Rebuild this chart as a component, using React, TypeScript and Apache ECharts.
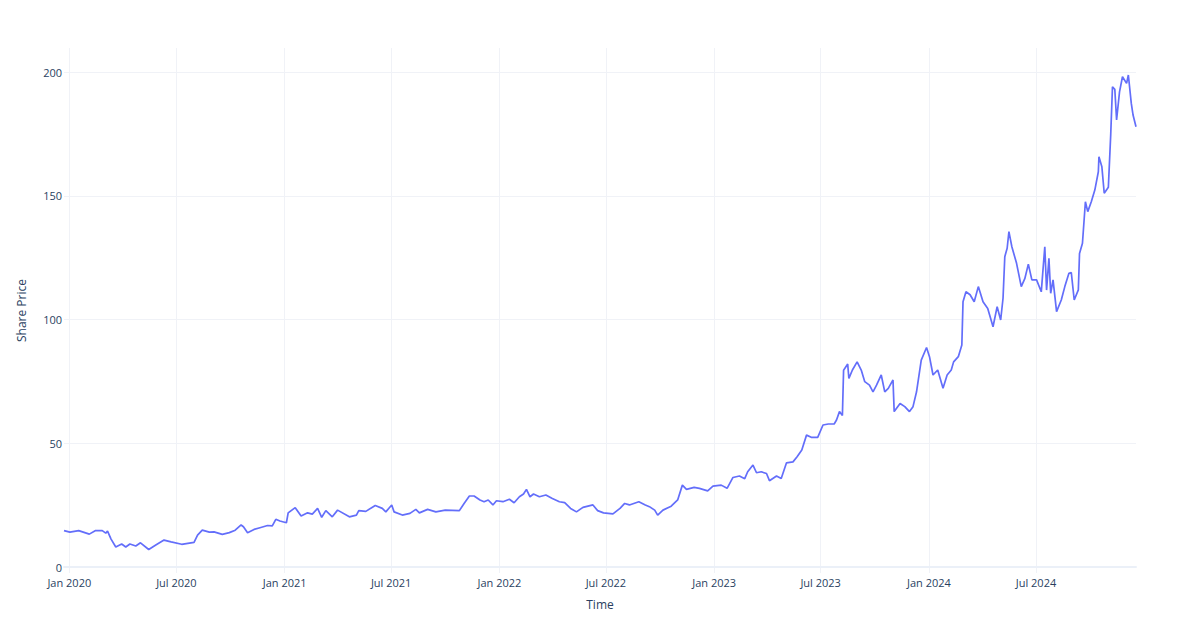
import React, { useEffect, useRef } from "react";
import * as echarts from "echarts";

const dates: string[] = [
  "2019-12-23","2020-01-02","2020-01-17","2020-02-04","2020-02-14","2020-02-26","2020-03-03","2020-03-06","2020-03-12","2020-03-20",
  "2020-03-30","2020-04-06","2020-04-13","2020-04-23","2020-05-01","2020-05-15","2020-05-27","2020-06-10","2020-06-22","2020-07-10",
  "2020-07-31","2020-08-06","2020-08-14","2020-08-26","2020-09-03","2020-09-17","2020-09-29","2020-10-09","2020-10-19","2020-10-23",
  "2020-10-30","2020-11-10","2020-11-20","2020-12-03","2020-12-11","2020-12-17","2020-12-24","2021-01-04","2021-01-07","2021-01-19",
  "2021-01-29","2021-02-09","2021-02-17","2021-02-26","2021-03-05","2021-03-12","2021-03-23","2021-04-01","2021-04-21","2021-05-03",
  "2021-05-07","2021-05-19","2021-06-04","2021-06-16","2021-06-22","2021-07-02","2021-07-06","2021-07-20","2021-08-02","2021-08-12",
  "2021-08-18","2021-09-01","2021-09-15","2021-10-01","2021-10-25","2021-11-02","2021-11-11","2021-11-19","2021-11-29","2021-12-06",
  "2021-12-13","2021-12-21","2021-12-27","2022-01-07","2022-01-18","2022-01-26","2022-02-04","2022-02-11","2022-02-16","2022-02-22",
  "2022-02-28","2022-03-10","2022-03-21","2022-04-01","2022-04-13","2022-04-22","2022-05-02","2022-05-12","2022-05-23","2022-06-09",
  "2022-06-17","2022-06-27","2022-07-13","2022-07-25","2022-08-02","2022-08-10","2022-08-26","2022-09-06","2022-09-13","2022-09-22",
  "2022-09-27","2022-10-06","2022-10-20","2022-10-31","2022-11-08","2022-11-15","2022-11-28","2022-12-07","2022-12-21","2022-12-30",
  "2023-01-13","2023-01-23","2023-02-02","2023-02-13","2023-02-22","2023-02-27","2023-03-08","2023-03-14","2023-03-22","2023-03-31",
  "2023-04-05","2023-04-17","2023-04-25","2023-05-04","2023-05-15","2023-05-22","2023-05-30","2023-06-07","2023-06-15","2023-06-26",
  "2023-07-05","2023-07-14","2023-07-24","2023-07-28","2023-08-02","2023-08-07","2023-08-09","2023-08-16","2023-08-18","2023-08-24",
  "2023-09-01","2023-09-08","2023-09-14","2023-09-22","2023-09-28","2023-10-04","2023-10-12","2023-10-18","2023-10-24","2023-11-01",
  "2023-11-03","2023-11-13","2023-11-21","2023-11-29","2023-12-05","2023-12-11","2023-12-19","2023-12-28","2024-01-02","2024-01-08",
  "2024-01-16","2024-01-25","2024-02-01","2024-02-08","2024-02-12","2024-02-20","2024-02-26","2024-02-28","2024-03-04","2024-03-11",
  "2024-03-18","2024-03-25","2024-04-02","2024-04-10","2024-04-19","2024-04-26","2024-05-02","2024-05-06","2024-05-09","2024-05-13",
  "2024-05-16","2024-05-21","2024-05-29","2024-06-06","2024-06-12","2024-06-18","2024-06-24","2024-07-02","2024-07-10","2024-07-16",
  "2024-07-19","2024-07-23","2024-07-26","2024-07-30","2024-08-05","2024-08-13","2024-08-19","2024-08-26","2024-08-30","2024-09-04",
  "2024-09-11","2024-09-13","2024-09-18","2024-09-23","2024-09-27","2024-10-03","2024-10-09","2024-10-15","2024-10-16","2024-10-21",
  "2024-10-25","2024-11-01","2024-11-05","2024-11-08","2024-11-12","2024-11-15","2024-11-20","2024-11-25","2024-12-02","2024-12-05",
  "2024-12-10","2024-12-13","2024-12-18"
];

const prices: number[] = [
  14.7,14.1,14.7,13.3,14.7,14.7,13.7,14.5,11.3,8.1,
  9.3,8.1,9.3,8.5,9.8,7.1,8.9,10.9,10.2,9.2,
  10.0,12.9,14.9,14.1,14.2,13.2,13.9,14.9,17.0,16.3,
  13.9,15.2,15.9,16.8,16.6,19.3,18.6,17.9,21.9,24.0,
  20.6,21.9,21.4,23.7,20.1,22.8,20.3,23.0,20.3,21.0,
  22.8,22.5,24.9,23.7,22.3,25.1,22.3,21.0,21.7,23.3,
  21.9,23.3,22.3,23.0,22.8,25.7,28.7,28.7,27.1,26.4,
  27.1,25.1,26.8,26.4,27.4,26.0,28.4,29.5,31.4,28.4,
  29.5,28.4,29.1,27.7,26.4,26.0,23.7,22.3,24.1,25.1,
  22.8,21.9,21.5,23.7,25.7,25.1,26.4,25.1,24.4,23.0,
  21.0,23.0,24.6,27.1,33.1,31.4,32.2,31.8,30.8,32.7,
  33.1,31.8,36.2,36.8,35.7,38.5,41.2,38.1,38.5,37.8,
  34.9,36.8,35.8,42.1,42.5,44.6,47.3,53.3,52.4,52.4,
  57.4,57.8,57.8,59.4,62.8,61.2,79.5,82.0,76.2,79.6,
  82.9,79.6,74.9,73.5,70.8,73.5,77.6,70.8,72.2,75.6,
  62.8,66.1,64.8,62.8,64.8,70.8,83.6,88.7,85.0,77.6,
  79.6,72.2,77.6,79.6,82.9,85.0,89.7,107.2,111.2,110.0,
  107.2,113.3,107.2,104.5,97.1,105.2,99.8,108.6,125.4,128.8,
  135.5,129.4,122.7,113.3,116.5,122.4,116.0,116.0,111.2,129.4,
  111.9,124.7,110.6,116.0,103.2,107.9,113.3,118.7,119.0,107.9,
  112.0,126.7,130.8,147.6,143.6,147.6,152.3,159.7,165.8,161.7,
  151.0,153.4,174.5,194.0,193.0,180.6,192.0,198.1,195.4,198.8,
  187.3,182.6,177.9
];

const xTickDates: string[] = [
  "2020-01-01","2020-07-01","2021-01-01","2021-07-01","2022-01-01",
  "2022-07-01","2023-01-01","2023-07-01","2024-01-01","2024-07-01"
];
const yTicks: number[] = [0, 50, 100, 150, 200];
const monthNames = ["Jan","Feb","Mar","Apr","May","Jun","Jul","Aug","Sep","Oct","Nov","Dec"];

function toTs(s: string): number {
  const [y, m, d] = s.split("-").map(Number);
  return new Date(y, m - 1, d).getTime();
}

export default function App() {
  const ref = useRef<HTMLDivElement>(null);
  useEffect(() => {
    if (!ref.current) return;
    const chart = echarts.init(ref.current, null, { renderer: "svg" });
    const textColor = "#2a3f5f";
    const gridColor = "#F0F2F7";
    const zeroColor = "#EBF0F8";
    const font = "'Open Sans', verdana, arial, sans-serif";
    const xTicks = xTickDates.map(toTs);
    chart.setOption({
      animation: false,
      backgroundColor: "#ffffff",
      grid: { left: 64, right: 64, top: 48, bottom: 67, containLabel: false },
      xAxis: {
        type: "value",
        scale: true,
        min: toTs(dates[0]),
        max: toTs(dates[dates.length - 1]),
        name: "Time",
        nameLocation: "middle",
        nameGap: 25,
        nameTextStyle: { color: textColor, fontSize: 12, fontFamily: font },
        axisLine: { show: true, onZero: true, lineStyle: { color: zeroColor, width: 2 } },
        axisTick: { show: false, customValues: xTicks },
        axisLabel: {
          customValues: xTicks,
          color: textColor,
          fontSize: 11,
          fontFamily: font,
          margin: 4,
          hideOverlap: false,
          showMinLabel: true,
          showMaxLabel: true,
          formatter: (v: number) => {
            const d = new Date(v);
            return monthNames[d.getMonth()] + " " + d.getFullYear();
          },
        },
        splitLine: { show: true, lineStyle: { color: gridColor, width: 1 } },
      },
      yAxis: {
        type: "value",
        min: -2.4,
        max: 209.7,
        name: "Share Price",
        nameLocation: "middle",
        nameGap: 37,
        nameTextStyle: { color: textColor, fontSize: 12, fontFamily: font },
        axisLine: { show: false },
        axisTick: { show: false, customValues: yTicks },
        axisLabel: {
          customValues: yTicks,
          color: textColor,
          fontSize: 11,
          fontFamily: font,
          margin: 2,
        },
        splitLine: { show: true, lineStyle: { color: gridColor, width: 1 } },
      },
      series: [
        {
          type: "line",
          data: dates.map((d, i) => [toTs(d), prices[i]]),
          showSymbol: false,
          symbol: "none",
          lineStyle: { color: "#636efa", width: 1.7 },
          itemStyle: { color: "#636efa" },
        },
      ],
    });
    return () => chart.dispose();
  }, []);
  return (
    <div
      ref={ref}
      style={{ position: "absolute", left: 0, top: 0, width: 1200, height: 640, background: "#fff" }}
    />
  );
}
